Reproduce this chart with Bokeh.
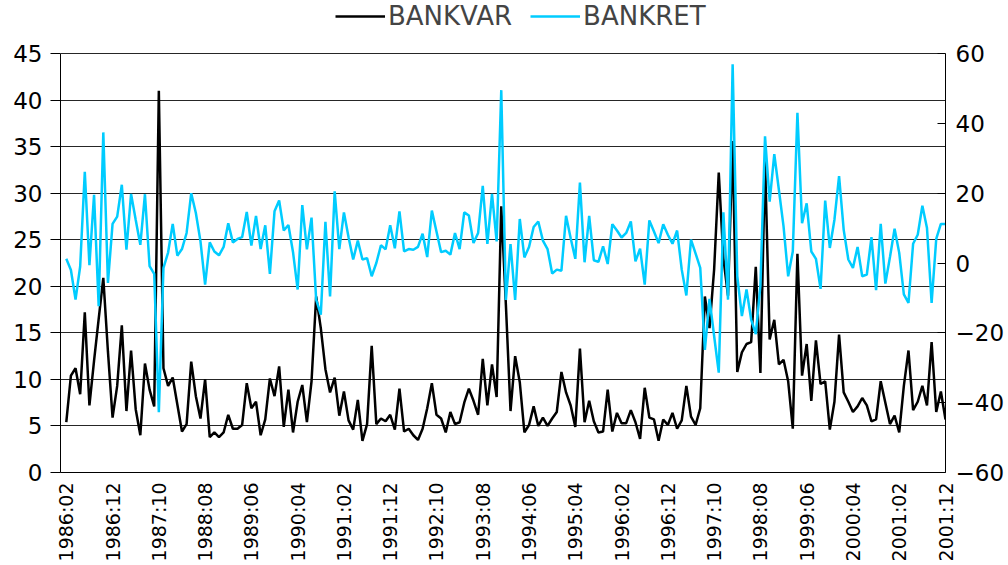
import numpy as np
from bokeh.plotting import figure
from bokeh.models import Range1d, LinearAxis, FixedTicker, Legend, LegendItem
from bokeh.embed import file_html
from bokeh.resources import INLINE

bankvar = [
    5.4, 10.4, 11.2, 8.4, 17.2, 7.2, 12.0, 16.5, 20.9, 13.0,
    5.9, 9.3, 15.8, 6.6, 13.1, 6.8, 4.0, 11.7, 8.9, 7.1,
    41.0, 11.2, 9.3, 10.2, 7.3, 4.4, 5.2, 11.9, 8.2, 5.8,
    10.0, 3.8, 4.3, 3.8, 4.3, 6.2, 4.7, 4.7, 5.1, 9.6,
    6.9, 7.6, 4.0, 5.7, 10.1, 8.2, 11.4, 4.9, 8.9, 4.3,
    7.6, 9.4, 5.4, 9.8, 18.9, 15.5, 11.1, 8.6, 10.2, 6.1,
    8.7, 5.6, 4.6, 7.8, 3.4, 5.2, 13.6, 5.2, 5.8, 5.5,
    6.2, 4.6, 9.0, 4.4, 4.7, 4.0, 3.5, 4.7, 6.9, 9.6,
    6.2, 5.8, 4.3, 6.5, 5.2, 5.4, 7.5, 9.0, 7.7, 6.2,
    12.2, 7.2, 11.6, 8.1, 28.6, 18.0, 6.6, 12.5, 9.7, 4.3,
    5.1, 7.1, 5.0, 5.9, 5.0, 5.8, 6.5, 10.8, 8.6, 7.2,
    4.9, 13.3, 5.4, 7.7, 5.5, 4.3, 4.4, 8.9, 4.4, 6.4,
    5.3, 5.3, 6.7, 5.4, 3.6, 9.1, 5.9, 5.7, 3.4, 5.7,
    5.1, 6.4, 4.7, 5.6, 9.3, 6.0, 5.1, 6.9, 18.9, 15.5,
    21.8, 32.2, 23.0, 19.0, 35.6, 10.8, 12.9, 13.8, 14.0, 22.1,
    10.7, 33.5, 14.3, 16.4, 11.6, 12.1, 9.8, 4.7, 23.5, 10.4,
    13.8, 7.7, 14.2, 9.5, 9.8, 4.6, 7.6, 14.8, 8.6, 7.6,
    6.5, 7.1, 8.0, 7.2, 5.5, 5.7, 9.8, 7.5, 5.2, 6.1,
    4.3, 9.3, 13.1, 6.7, 7.6, 9.3, 7.2, 14.0, 6.5, 8.7,
    5.7,
]

bankret = [
    1.2, -2.0, -10.5, -1.0, 26.1, -0.6, 19.5, -12.4, 37.4, -5.7,
    11.2, 13.3, 22.4, 3.8, 19.8, 12.4, 5.2, 19.7, -0.9, -3.1,
    -42.7, -1.4, 3.0, 11.2, 2.1, 4.0, 8.6, 20.0, 14.3, 6.2,
    -6.2, 5.9, 3.3, 2.2, 4.6, 11.4, 5.9, 6.9, 7.4, 14.6,
    5.0, 13.5, 4.0, 10.8, -3.1, 14.8, 17.9, 9.3, 10.9, 3.1,
    -7.6, 16.6, 3.9, 13.0, -10.5, -14.8, 11.8, -9.6, 20.5, 4.0,
    14.5, 7.4, 1.0, 6.4, 1.0, 1.4, -3.8, 0.0, 5.1, 3.9,
    10.8, 4.2, 14.8, 3.3, 4.0, 3.8, 4.6, 8.4, 1.7, 15.0,
    9.0, 3.1, 3.5, 2.4, 8.6, 4.0, 14.5, 13.6, 5.7, 8.6,
    22.1, 5.5, 19.8, 6.2, 49.5, -10.6, 5.4, -10.6, 12.6, 1.6,
    4.6, 10.3, 11.9, 6.4, 4.0, -3.0, -1.9, -2.2, 13.5, 7.1,
    1.2, 23.0, 0.2, 13.5, 0.8, 0.3, 4.8, -0.3, 11.1, 9.3,
    7.3, 8.6, 11.9, 0.5, 4.1, -6.2, 12.2, 9.0, 5.7, 11.1,
    8.1, 5.5, 9.3, -1.9, -9.3, 6.7, 2.7, -1.4, -24.9, -10.3,
    -20.9, -31.4, 14.5, -10.5, 56.9, -3.8, -15.2, -7.6, -16.2, -20.4,
    -6.5, 36.3, 17.6, 31.2, 20.9, 10.5, -3.8, 3.3, 43.0, 11.4,
    17.1, 3.3, 1.2, -7.4, 17.9, 4.3, 12.4, 24.9, 9.5, 1.0,
    -1.4, 4.6, -3.8, -3.3, 7.4, -7.8, 11.2, -5.9, 1.7, 9.8,
    2.9, -9.0, -11.4, 5.5, 8.1, 16.4, 10.0, -11.4, 6.9, 11.2,
    11.2,
]

tick_labels = [
    "1986:02", "1986:12", "1987:10", "1988:08", "1989:06", "1990:04",
    "1991:02", "1991:12", "1992:10", "1993:08", "1994:06", "1995:04",
    "1996:02", "1996:12", "1997:10", "1998:08", "1999:06", "2000:04",
    "2001:02", "2001:12",
]

left_ticks = [0, 5, 10, 15, 20, 25, 30, 35, 40, 45]
right_ticks = [-60, -40, -20, 0, 20, 40, 60]

months = list(range(len(bankvar)))
label_step = 10
label_pos = [i * label_step for i in range(len(tick_labels))]

FONT = "DejaVu Sans"

# layout in screen pixels
W, H = 1008, 565
frame_bottom_px = 93      # space under the plot area
axis_px = 419             # height of the 0..45 axis
plot_px = H - frame_bottom_px  # frame reaches the top of the canvas (room for legend)

left_lo, left_hi = left_ticks[0], left_ticks[-1]
right_lo, right_hi = right_ticks[0], right_ticks[-1]
left_top = left_lo + (left_hi - left_lo) * plot_px / axis_px
right_top = right_lo + (right_hi - right_lo) * plot_px / axis_px

p = figure(width=W, height=H, output_backend="svg", toolbar_location=None,
           x_range=Range1d(-1.25, 190), y_range=Range1d(left_lo, left_top),
           min_border_left=60, min_border_right=63, min_border_top=0,
           min_border_bottom=frame_bottom_px)
p.extra_y_ranges = {"ret": Range1d(right_lo, right_top)}
p.outline_line_color = None
p.background_fill_color = "white"
p.border_fill_color = "white"

# left axis
ya = p.yaxis[0]
ya.ticker = FixedTicker(ticks=left_ticks)
ya.bounds = (left_lo, left_hi)
ya.major_tick_out = 10
ya.major_tick_in = 0
ya.minor_tick_out = 0
ya.minor_tick_in = 0
ya.axis_line_color = "black"
ya.major_tick_line_color = "black"
ya.major_label_text_font = FONT
ya.major_label_text_font_size = "23px"
ya.major_label_text_color = "black"
ya.major_label_standoff = 8

# bottom axis
xa = p.xaxis[0]
xa.ticker = FixedTicker(ticks=label_pos)
xa.major_label_overrides = {pos: lab for pos, lab in zip(label_pos, tick_labels)}
xa.major_label_orientation = np.pi / 2
xa.major_tick_out = 0
xa.major_tick_in = 0
xa.minor_tick_out = 0
xa.minor_tick_in = 0
xa.axis_line_color = "black"
xa.major_label_text_font = FONT
xa.major_label_text_font_size = "19px"
xa.major_label_text_color = "black"
xa.major_label_standoff = 10

# right axis
ra = LinearAxis(y_range_name="ret", ticker=FixedTicker(ticks=right_ticks))
ra.bounds = (right_lo, right_hi)
ra.major_tick_in = 8
ra.major_tick_out = 0
ra.minor_tick_in = 0
ra.minor_tick_out = 0
ra.axis_line_color = "black"
ra.major_tick_line_color = "black"
ra.major_label_text_font = FONT
ra.major_label_text_font_size = "23px"
ra.major_label_text_color = "black"
ra.major_label_standoff = 10
p.add_layout(ra, "right")

p.xgrid.visible = False
p.ygrid.ticker = FixedTicker(ticks=left_ticks)
p.ygrid.grid_line_color = "black"
p.ygrid.grid_line_alpha = 0.85
p.ygrid.grid_line_width = 1

r1 = p.line(months, bankvar, line_color="black", line_width=2.5)
r2 = p.line(months, bankret, line_color="#00CCFF", line_width=2.5, y_range_name="ret")

legend = Legend(items=[LegendItem(label="BANKVAR", renderers=[r1]),
                       LegendItem(label="BANKRET", renderers=[r2])],
                orientation="horizontal", location=(275, 441),
                glyph_width=50, glyph_height=20, label_height=20,
                label_standoff=3, spacing=18,
                padding=0, margin=0, border_line_color=None,
                background_fill_alpha=0,
                label_text_font=FONT, label_text_font_size="26px")
p.add_layout(legend, "center")

open("out.html", "w").write(file_html(p, INLINE))
